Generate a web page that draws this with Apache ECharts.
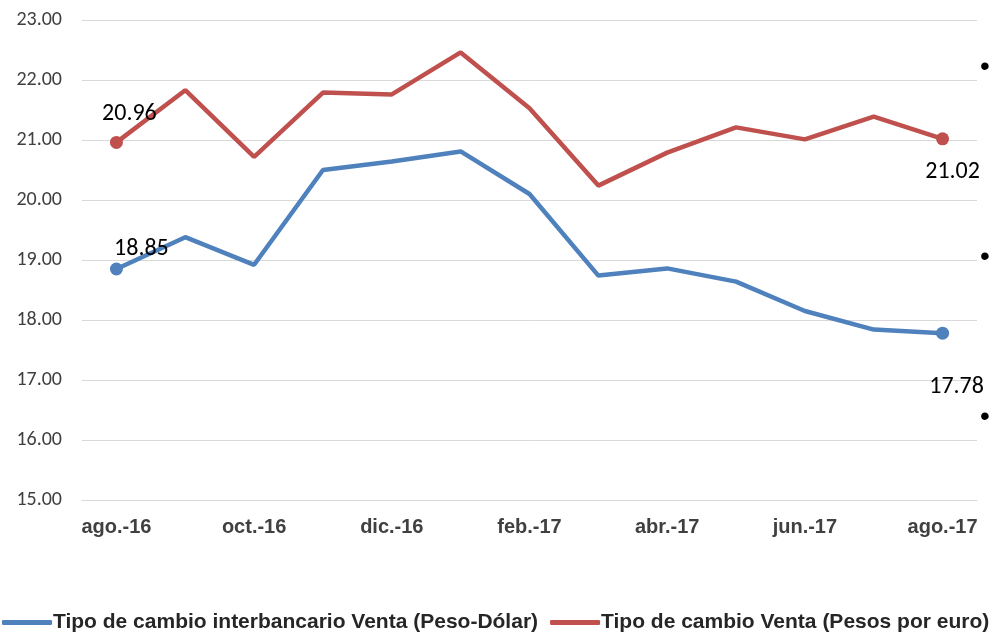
<!DOCTYPE html>
<html>
<head>
<meta charset="utf-8">
<script src="https://cdn.jsdelivr.net/npm/echarts@6/dist/echarts.min.js"></script>
<style>
  html, body { margin: 0; padding: 0; background: #fff; }
  #chart { width: 1002px; height: 633px; }
</style>
</head>
<body>
<div id="chart"></div>
<script>
// meses ago.-16 .. ago.-17
var months = ['ago.-16', 'sep.-16', 'oct.-16', 'nov.-16', 'dic.-16', 'ene.-17', 'feb.-17',
  'mar.-17', 'abr.-17', 'may.-17', 'jun.-17', 'jul.-17', 'ago.-17']
var pesoDolar = [18.85, 19.38, 18.92, 20.50, 20.64, 20.81, 20.10, 18.74, 18.86, 18.64, 18.15, 17.84, 17.78]
var pesoEuro = [20.96, 21.83, 20.72, 21.79, 21.76, 22.46, 21.53, 20.24, 20.79, 21.21, 21.01, 21.39, 21.02]
var seriesNames = ['Tipo de cambio interbancario Venta (Peso-Dólar)', 'Tipo de cambio Venta (Pesos por euro)']
var yMin = 15, yMax = 23, yStep = 1

var narrow = "'Liberation Sans Narrow', 'Liberation Sans', sans-serif"
var plain = "Carlito, 'Open Sans', 'Liberation Sans', sans-serif"

// solo se marcan el primer y ultimo punto
function endPoints(data, firstLabel, lastLabel) {
  return data.map(function (v, i) {
    if (i === 0) {
      return { value: v, symbolSize: 13, label: Object.assign({ show: true }, firstLabel) }
    }
    if (i === data.length - 1) {
      return { value: v, symbolSize: 13, label: Object.assign({ show: true }, lastLabel) }
    }
    return { value: v, symbolSize: 0 }
  })
}

var chart = echarts.init(document.getElementById('chart'))
chart.setOption({
  animation: false,
  grid: { left: 82, right: 25, top: 20, bottom: 133 },
  legend: {
    left: 2,
    top: 612,
    padding: 0,
    itemGap: 12,
    itemWidth: 50,
    itemHeight: 5,
    icon: 'roundRect',
    textStyle: { fontFamily: narrow, fontWeight: 'bold', fontSize: 21, color: '#262626', padding: [0, 0, 0, -4] },
    data: seriesNames
  },
  xAxis: {
    type: 'category',
    data: months,
    boundaryGap: true,
    axisLine: { lineStyle: { color: '#d9d9d9', width: 1 } },
    axisTick: { interval: 1, length: 7, lineStyle: { color: '#d9d9d9' } },
    axisLabel: {
      interval: 1,
      margin: 17,
      fontFamily: narrow,
      fontWeight: 'bold',
      fontSize: 20,
      color: '#404040'
    }
  },
  yAxis: {
    type: 'value',
    min: yMin,
    max: yMax,
    interval: yStep,
    axisLine: { show: false },
    axisTick: { show: false },
    splitLine: { lineStyle: { color: '#d9d9d9', width: 1 } },
    axisLabel: {
      margin: 20,
      fontFamily: plain,
      fontSize: 20,
      color: '#404040',
      formatter: function (v) { return v.toFixed(2) }
    }
  },
  series: [
    {
      name: seriesNames[0],
      type: 'line',
      color: '#4f81bd',
      lineStyle: { width: 4.5, color: '#4f81bd' },
      symbol: 'circle',
      data: endPoints(pesoDolar,
        { position: 'top', offset: [25, 2], distance: 4 },
        { position: 'bottom', offset: [14, 5], distance: 30 }),
      label: {
        fontFamily: plain, fontSize: 24, color: '#000',
        formatter: function (p) { return p.value.toFixed(2) }
      },
      z: 3
    },
    {
      name: seriesNames[1],
      type: 'line',
      color: '#c0504d',
      lineStyle: { width: 4.5, color: '#c0504d' },
      symbol: 'circle',
      data: endPoints(pesoEuro,
        { position: 'top', offset: [13, 2], distance: 12 },
        { position: 'bottom', offset: [10, 7], distance: 8 }),
      label: {
        fontFamily: plain, fontSize: 24, color: '#000',
        formatter: function (p) { return p.value.toFixed(2) }
      },
      z: 2
    }
  ],
  graphic: [
    { type: 'text', left: 980, top: 53, style: { text: '•', fontSize: 28, fill: '#000' } },
    { type: 'text', left: 980, top: 243, style: { text: '•', fontSize: 28, fill: '#000' } },
    { type: 'text', left: 980, top: 403, style: { text: '•', fontSize: 28, fill: '#000' } }
  ]
})
</script>
</body>
</html>
